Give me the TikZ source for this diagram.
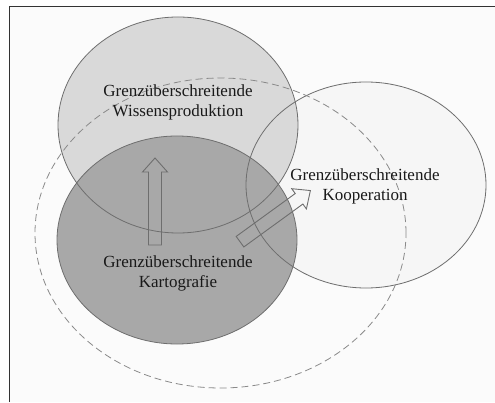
\documentclass[tikz,border=0pt]{standalone}
\usepackage{fontspec}
\setmainfont{Liberation Serif}
\definecolor{paper}{HTML}{FBFBFB}
\definecolor{wissengrey}{HTML}{D9D9D9}
\definecolor{kartogrey}{HTML}{A8A8A8}
\definecolor{koopgrey}{HTML}{F6F6F6}
\definecolor{rimgrey}{HTML}{6E6E6E}
\definecolor{dashgrey}{HTML}{8A8A8A}

\begin{document}
\begin{tikzpicture}[x=1pt, y=1pt,
    rim/.style={draw=rimgrey, line width=0.8pt},
    caption/.style={align=center, font=\fontsize{17}{20}\selectfont, text=black!90},
    blockarrow/.pic={\draw[draw=rimgrey, line width=0.9pt, line join=miter]
      (0,-6.5) -- (73,-6.5) -- (73,-12.5) -- (87,0) -- (73,12.5) -- (73,6.5) -- (0,6.5) -- cycle;}]
        \useasboundingbox (0,0) rectangle (495,402);
        % frame
        \fill[paper] (9,0) rectangle (495,395);
        \draw[black!80, line width=1pt] (9,0) -- (9,395) -- (495,395);
        % fills first, outlines after
        \fill[koopgrey] (366,217) ellipse [x radius=120, y radius=103];
        \fill[wissengrey] (178,277) ellipse [x radius=120, y radius=108];
        \fill[kartogrey] (177,162) ellipse [x radius=120, y radius=104];
        \draw[rim] (366,217) ellipse [x radius=120, y radius=103];
        \draw[rim] (178,277) ellipse [x radius=120, y radius=108];
        \draw[rim] (177,162) ellipse [x radius=120, y radius=104];
        \draw[dashgrey, line width=0.8pt, dash pattern=on 7pt off 4pt] (220.5,169) ellipse [x radius=185.5, y radius=155];
        % arrows
        \pic[rotate=90] at (155,157) {blockarrow};
        \pic[rotate=36] at (240,160.3) {blockarrow};
        \node[caption] (wissen) at (178,300) {Grenzüberschreitende\\Wissensproduktion};
        \node[caption] (karto) at (178,129) {Grenzüberschreitende\\Kartografie};
        \node[caption] (koop) at (365,216) {Grenzüberschreitende\\Kooperation};
      \end{tikzpicture}
\end{document}
